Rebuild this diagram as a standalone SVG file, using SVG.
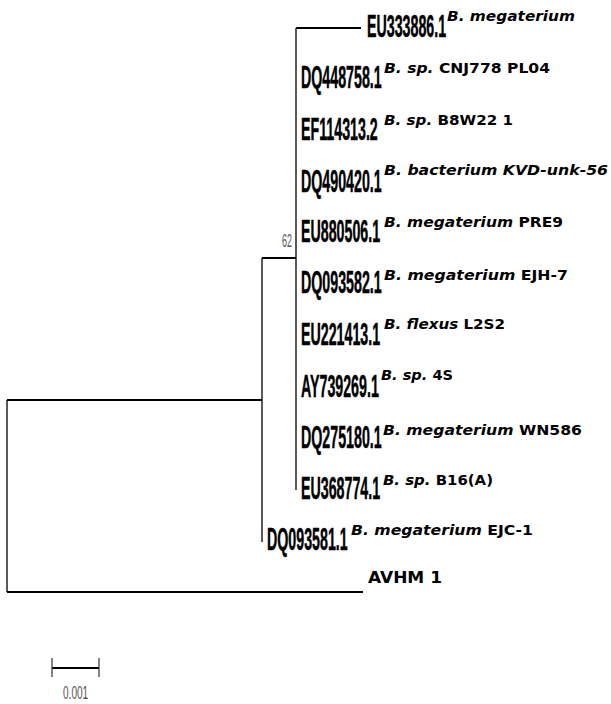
<svg xmlns="http://www.w3.org/2000/svg" width="611" height="704" viewBox="0 0 611 704">
<style>
.h{stroke:#000;stroke-width:2;fill:none}
.v{stroke:#000;stroke-width:1.3;fill:none}
.acc{font-family:"Liberation Sans",Arial,sans-serif;font-weight:bold;font-size:32px;fill:#000;stroke:#000;stroke-width:0.5}
.sp{font-family:"DejaVu Sans",sans-serif;font-weight:bold;font-size:14px;fill:#000}
.it{font-style:italic}
.g{font-family:"Liberation Sans",Arial,sans-serif;font-size:19px;fill:#555}
</style>
<rect width="611" height="704" fill="#fff"/>
<g id="connectors">
<line class="v" x1="7" y1="400" x2="7" y2="592"/>
<line class="h" x1="7" y1="400" x2="262" y2="400"/>
<line class="h" x1="7" y1="592" x2="363" y2="592"/>
<line class="v" x1="262" y1="258" x2="262" y2="542"/>
<line class="h" x1="262" y1="258" x2="296" y2="258"/>
<line class="v" x1="296" y1="28" x2="296" y2="490"/>
<line class="h" x1="296" y1="28" x2="361" y2="28"/>
</g>
<g id="bootstrap"><text class="g" transform="translate(282 247) scale(0.47 1)">62</text></g>
<g id="n1"><text class="acc" transform="translate(367 37) scale(0.445 1)">EU333886.1</text><text class="sp it" x="447" y="21" textLength="128" lengthAdjust="spacingAndGlyphs">B. megaterium</text></g>
<g id="n2"><text class="acc" transform="translate(301 88) scale(0.445 1)">DQ448758.1</text><text class="sp" x="384" y="73" textLength="166" lengthAdjust="spacingAndGlyphs"><tspan class="it">B. sp.</tspan> CNJ778 PL04</text></g>
<g id="n3"><text class="acc" transform="translate(301 140) scale(0.445 1)">EF114313.2</text><text class="sp" x="384" y="125" textLength="129" lengthAdjust="spacingAndGlyphs"><tspan class="it">B. sp.</tspan> B8W22 1</text></g>
<g id="n4"><text class="acc" transform="translate(301 192) scale(0.445 1)">DQ490420.1</text><text class="sp it" x="384" y="175" textLength="224" lengthAdjust="spacingAndGlyphs">B. bacterium KVD-unk-56</text></g>
<g id="n5"><text class="acc" transform="translate(301 242) scale(0.445 1)">EU880506.1</text><text class="sp" x="384" y="227" textLength="179" lengthAdjust="spacingAndGlyphs"><tspan class="it">B. megaterium</tspan> PRE9</text></g>
<g id="n6"><text class="acc" transform="translate(301 293) scale(0.445 1)">DQ093582.1</text><text class="sp" x="384" y="280" textLength="184" lengthAdjust="spacingAndGlyphs"><tspan class="it">B. megaterium</tspan> EJH-7</text></g>
<g id="n7"><text class="acc" transform="translate(301 345) scale(0.445 1)">EU221413.1</text><text class="sp" x="384" y="329" textLength="121" lengthAdjust="spacingAndGlyphs"><tspan class="it">B. flexus</tspan> L2S2</text></g>
<g id="n8"><text class="acc" transform="translate(301 397) scale(0.445 1)">AY739269.1</text><text class="sp" x="381" y="380" textLength="72" lengthAdjust="spacingAndGlyphs"><tspan class="it">B. sp.</tspan> 4S</text></g>
<g id="n9"><text class="acc" transform="translate(301 448) scale(0.445 1)">DQ275180.1</text><text class="sp" x="383" y="435" textLength="199" lengthAdjust="spacingAndGlyphs"><tspan class="it">B. megaterium</tspan> WN586</text></g>
<g id="n10"><text class="acc" transform="translate(301 499) scale(0.445 1)">EU368774.1</text><text class="sp" x="383" y="485" textLength="110" lengthAdjust="spacingAndGlyphs"><tspan class="it">B. sp.</tspan> B16(A)</text></g>
<g id="n11"><text class="acc" transform="translate(267 550) scale(0.445 1)">DQ093581.1</text><text class="sp" x="351" y="535" textLength="182" lengthAdjust="spacingAndGlyphs"><tspan class="it">B. megaterium</tspan> EJC-1</text></g>
<g id="n12"><text class="sp" x="368" y="583" textLength="74" lengthAdjust="spacingAndGlyphs" style="font-size:16px">AVHM 1</text></g>
<g id="scale">
<line x1="52" y1="668" x2="99" y2="668" stroke="#000" stroke-width="2"/>
<line x1="52" y1="658" x2="52" y2="677" stroke="#333" stroke-width="1.2"/>
<line x1="99" y1="658" x2="99" y2="677" stroke="#333" stroke-width="1.2"/>
<text class="g" transform="translate(63 699) scale(0.53 1)">0.001</text>
</g>
</svg>
